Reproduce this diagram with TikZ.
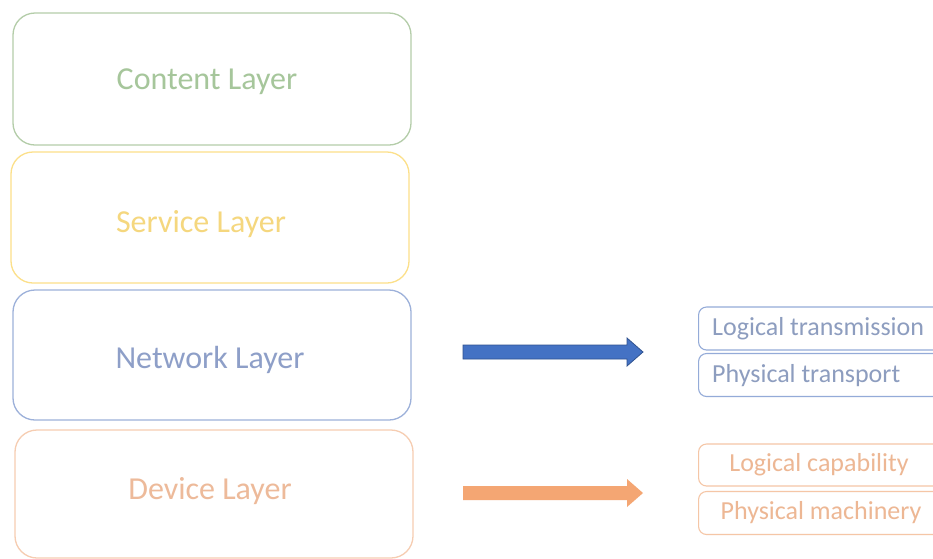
\documentclass[tikz,border=0pt]{standalone}
\usepackage{fontspec}
\setmainfont{Carlito}
\definecolor{cgreen}{HTML}{B4CDA9}
\definecolor{cgreentxt}{HTML}{A6C69B}
\definecolor{cyellow}{HTML}{FCE08A}
\definecolor{cyellowtxt}{HTML}{F5D77E}
\definecolor{cblue}{HTML}{9DB1DA}
\definecolor{cbluetxt}{HTML}{8E9FC8}
\definecolor{corange}{HTML}{F6CDB2}
\definecolor{corangetxt}{HTML}{EDBA9A}
\definecolor{arrblue}{HTML}{4472C4}
\definecolor{arrblueline}{HTML}{2F528F}
\definecolor{arrorange}{HTML}{F4A673}
\definecolor{smblue}{HTML}{94ABD8}
\definecolor{smbluetxt}{HTML}{8D9DBF}
\definecolor{smorange}{HTML}{F5C6A6}
\definecolor{smorangetxt}{HTML}{EDB794}
\begin{document}
\begin{tikzpicture}[x=1pt,y=-1pt,
  layerbox/.style={draw=#1, line width=1.3pt, rounded corners=22pt,
    minimum width=398pt, inner sep=0pt},
  layertext/.style={text=#1, font=\fontsize{32}{36}\selectfont},
  subbox/.style={draw=#1, line width=1.1pt, rounded corners=8pt,
    minimum height=43pt, inner sep=0pt, anchor=west},
  subtext/.style={text=#1, font=\fontsize{26}{29}\selectfont}]
\useasboundingbox (0,0) rectangle (933,558);
\clip (0,0) rectangle (933,558);
\fill[white] (0,0) rectangle (933,558);

% layer stack
\node[layerbox=cgreen,  minimum height=132pt] (content) at (212,79) {};
\node[layerbox=cyellow, minimum height=131pt] (service) at (210,217.5) {};
\node[layerbox=cblue,   minimum height=130pt] (network) at (212,355) {};
\node[layerbox=corange, minimum height=128pt] (device)  at (214,494) {};

\node[layertext=cgreentxt]  (contentlbl) at (207,82)  {Content Layer};
\node[layertext=cyellowtxt] (servicelbl) at (201,224) {Service Layer};
\node[layertext=cbluetxt]   (networklbl) at (210,360) {Network Layer};
\node[layertext=corangetxt] (devicelbl)  at (210,491) {Device Layer};

% block arrows
\coordinate (ba) at (463,352);
\coordinate (oa) at (463,493);
\filldraw[fill=arrblue, draw=arrblueline, line width=0.8pt]
  (ba) ++(0,-7) -- ++(164,0) -- ++(0,-7) -- ++(16,14) -- ++(-16,14)
  -- ++(0,-7) -- ++(-164,0) -- cycle;
\fill[arrorange]
  (oa) ++(0,-7) -- ++(164,0) -- ++(0,-7) -- ++(16,14) -- ++(-16,14)
  -- ++(0,-7) -- ++(-164,0) -- cycle;

% detail boxes
\node[subbox=smblue, minimum width=262pt] (logtrans)  at (698,328.5) {};
\node[subbox=smblue, minimum width=262pt] (phystrans) at (698,375) {};
\node[subtext=smbluetxt, anchor=west, inner sep=0pt] (logtranslbl)  at (712,329) {Logical transmission};
\node[subtext=smbluetxt, anchor=west, inner sep=0pt] (phystranslbl) at (712,376) {Physical transport};
\node[subbox=smorange, minimum width=244pt, minimum height=42pt] (logcap) at (698,465) {};
\node[subbox=smorange, minimum width=244pt] (physmach) at (698,513) {};
\node[subtext=smorangetxt] (logcaplbl)   at (819,465) {Logical capability};
\node[subtext=smorangetxt] (physmachlbl) at (821,513) {Physical machinery};
\end{tikzpicture}
\end{document}
